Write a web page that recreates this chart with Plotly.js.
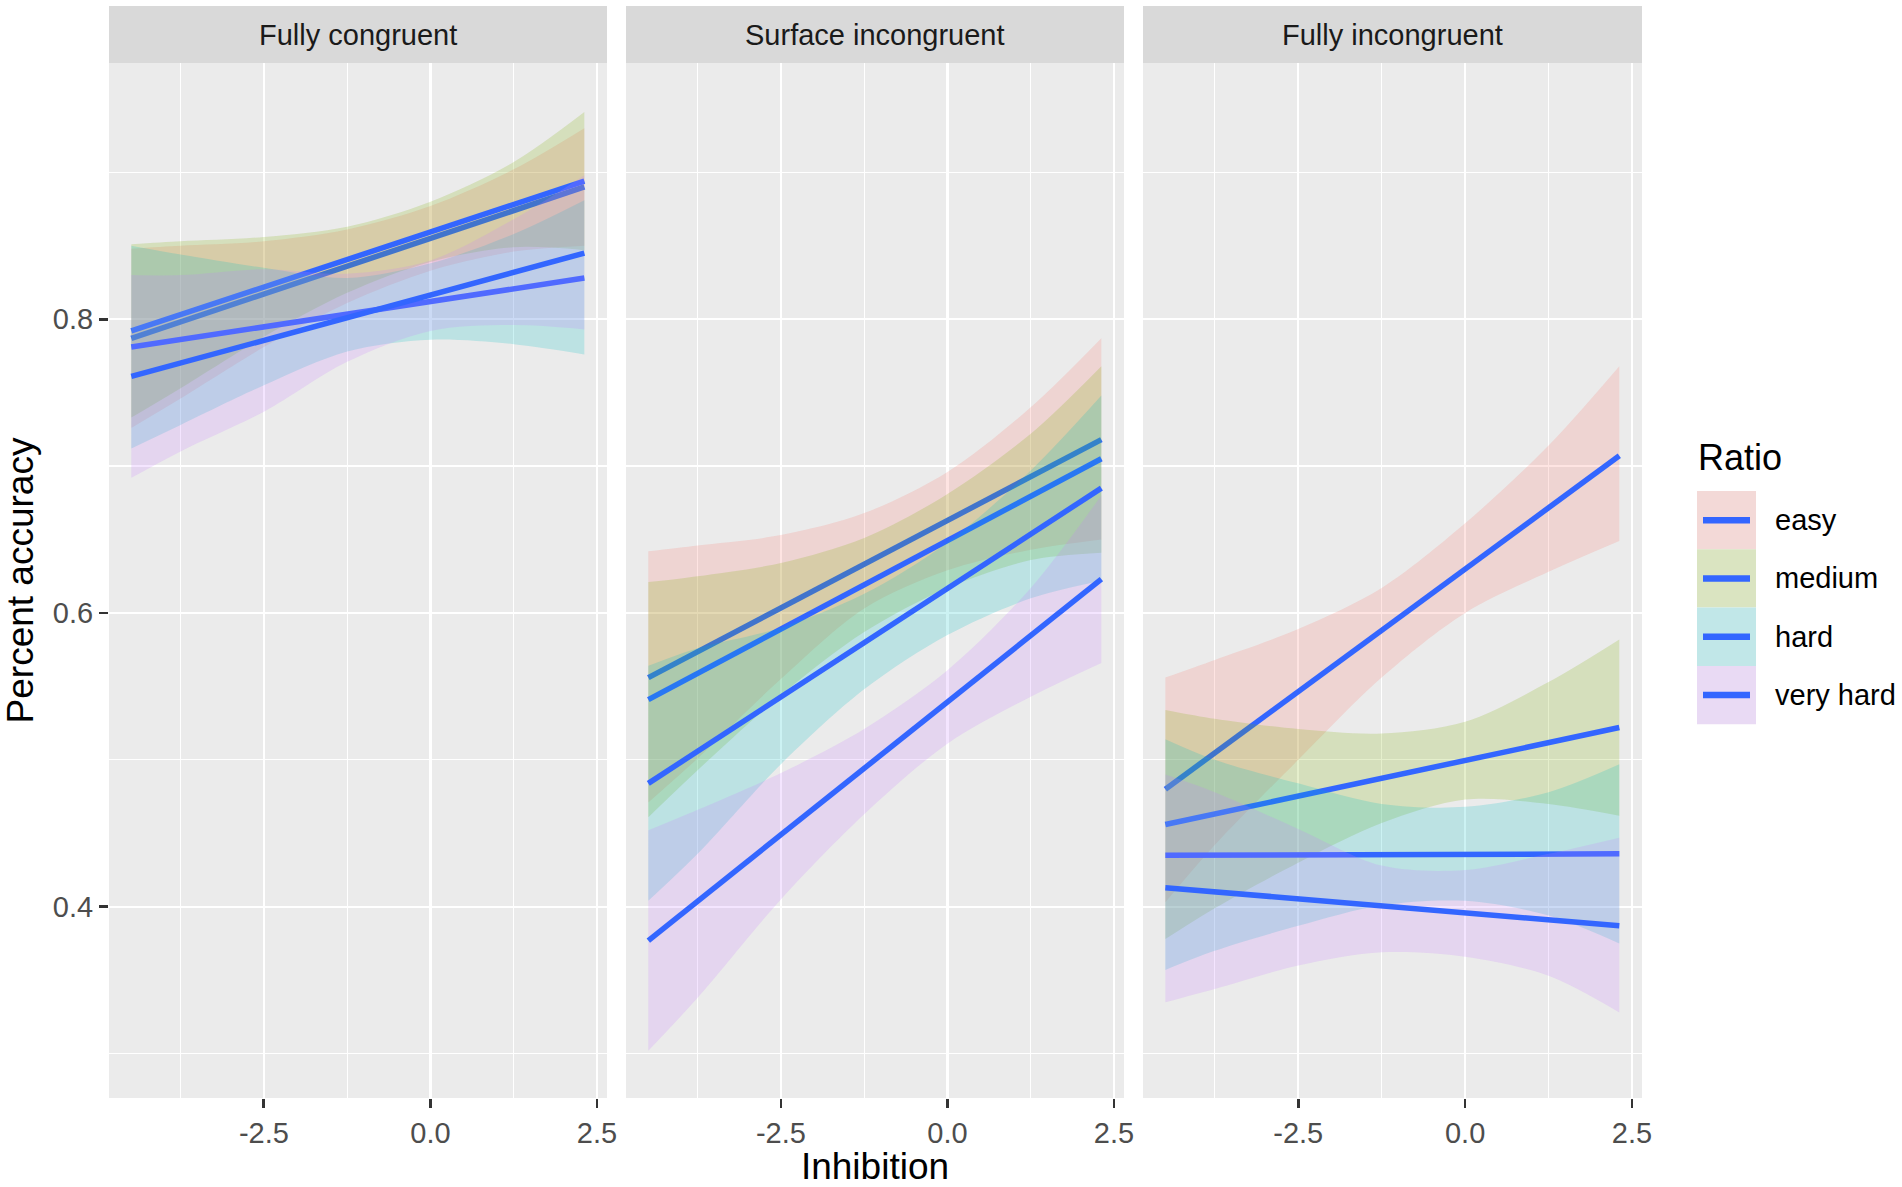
<!DOCTYPE html>
<html>
<head>
<meta charset="utf-8">
<script src="https://cdn.plot.ly/plotly-3.0.1.min.js"></script>
<style>
  html, body { margin: 0; padding: 0; background: #ffffff; }
  #chart { width: 1902px; height: 1187px; }
</style>
</head>
<body>
<div id="chart"></div>
<script>
// ---------------- data ----------------
const panels = ['Fully congruent', 'Surface incongruent', 'Fully incongruent'];
const categories = ['easy', 'medium', 'hard', 'very hard'];
const fillColors = ['rgba(248,118,109,0.2)', 'rgba(124,174,0,0.2)', 'rgba(0,191,196,0.2)', 'rgba(199,124,255,0.2)'];

// x positions where the confidence bands were read
const bandX = [-4.49, -3.75, -2.5, -1.25, 0, 1.25, 2.31];
// end points of the fitted lines
const lineX = [-4.49, 2.31];

// Fully congruent
const fcLine  = { easy: [0.787, 0.890], medium: [0.792, 0.894], hard: [0.781, 0.828], 'very hard': [0.761, 0.845] };
const fcUpper = {
  easy:        [0.848, 0.850, 0.853, 0.861, 0.877, 0.902, 0.930],
  medium:      [0.851, 0.853, 0.856, 0.863, 0.880, 0.907, 0.941],
  hard:        [0.850, 0.844, 0.835, 0.828, 0.838, 0.858, 0.881],
  'very hard': [0.830, 0.830, 0.834, 0.831, 0.840, 0.868, 0.898]
};
const fcLower = {
  easy:        [0.726, 0.746, 0.781, 0.811, 0.833, 0.846, 0.850],
  medium:      [0.733, 0.753, 0.788, 0.818, 0.839, 0.849, 0.847],
  hard:        [0.712, 0.728, 0.755, 0.778, 0.786, 0.783, 0.776],
  'very hard': [0.692, 0.710, 0.737, 0.771, 0.792, 0.796, 0.793]
};

// Surface incongruent
const siLine  = { easy: [0.556, 0.718], medium: [0.541, 0.705], hard: [0.484, 0.685], 'very hard': [0.377, 0.623] };
const siUpper = {
  easy:        [0.642, 0.646, 0.653, 0.668, 0.696, 0.740, 0.787],
  medium:      [0.621, 0.625, 0.634, 0.651, 0.681, 0.722, 0.768],
  hard:        [0.564, 0.576, 0.590, 0.613, 0.648, 0.697, 0.748],
  'very hard': [0.452, 0.466, 0.491, 0.521, 0.561, 0.617, 0.680]
};
const siLower = {
  easy:        [0.471, 0.501, 0.555, 0.603, 0.629, 0.643, 0.650],
  medium:      [0.461, 0.493, 0.544, 0.587, 0.617, 0.636, 0.641],
  hard:        [0.404, 0.436, 0.497, 0.548, 0.585, 0.610, 0.622],
  'very hard': [0.302, 0.338, 0.405, 0.463, 0.511, 0.543, 0.566]
};

// Fully incongruent
const fiLine  = { easy: [0.480, 0.707], medium: [0.456, 0.522], hard: [0.435, 0.436], 'very hard': [0.413, 0.387] };
const fiUpper = {
  easy:        [0.556, 0.568, 0.589, 0.617, 0.661, 0.714, 0.768],
  medium:      [0.534, 0.528, 0.521, 0.518, 0.526, 0.553, 0.582],
  hard:        [0.514, 0.500, 0.484, 0.470, 0.468, 0.478, 0.497],
  'very hard': [0.490, 0.478, 0.453, 0.428, 0.425, 0.436, 0.447]
};
const fiLower = {
  easy:        [0.403, 0.442, 0.500, 0.556, 0.600, 0.628, 0.649],
  medium:      [0.378, 0.399, 0.430, 0.457, 0.473, 0.470, 0.462],
  hard:        [0.357, 0.370, 0.387, 0.401, 0.404, 0.394, 0.375],
  'very hard': [0.335, 0.344, 0.360, 0.369, 0.366, 0.353, 0.328]
};

const xTickVals = [-2.5, 0, 2.5];
const xTickText = ['-2.5', '0.0', '2.5'];
const xMinorVals = [-3.75, -1.25, 1.25];
const yTickVals = [0.4, 0.6, 0.8];
const yTickText = ['0.4', '0.6', '0.8'];
const yMinorVals = [0.3, 0.5, 0.7, 0.9];

// ---------------- build ----------------
const panelData = [
  { line: fcLine, upper: fcUpper, lower: fcLower },
  { line: siLine, upper: siUpper, lower: siLower },
  { line: fiLine, upper: fiUpper, lower: fiLower }
];
const lineColor = '#3366FF';
const FONT = 'Liberation Sans, Arial, Helvetica, sans-serif';

const traces = [];
panelData.forEach((pd, p) => {
  const xa = p === 0 ? 'x' : 'x' + (p + 1);
  const ya = p === 0 ? 'y' : 'y' + (p + 1);
  categories.forEach((c, i) => {
    traces.push({
      type: 'scatter', mode: 'lines', x: bandX, y: pd.lower[c], xaxis: xa, yaxis: ya,
      line: { width: 0, shape: 'spline', smoothing: 0.9 }, showlegend: false, hoverinfo: 'skip'
    });
    traces.push({
      type: 'scatter', mode: 'lines', x: bandX, y: pd.upper[c], xaxis: xa, yaxis: ya,
      fill: 'tonexty', fillcolor: fillColors[i],
      line: { width: 0, shape: 'spline', smoothing: 0.9 }, showlegend: false, hoverinfo: 'skip'
    });
    traces.push({
      type: 'scatter', mode: 'lines', x: lineX, y: pd.line[c], xaxis: xa, yaxis: ya,
      line: { color: lineColor, width: 5.5 }, showlegend: false, name: c
    });
  });
});

// layout geometry (pixels of the 1902x1187 figure)
const W = 1902, H = 1187;
const mL = 109, mR = 260, mT = 63, mB = 89;
const plotW = W - mL - mR, plotH = H - mT - mB;
const px2x = px => (px - mL) / plotW;
const py2y = py => (H - mB - py) / plotH;

const domains = [[0, px2x(607)], [px2x(626), px2x(1124)], [px2x(1143), 1]];

function xAxis(i) {
  return {
    domain: domains[i], range: [-4.825, 2.65], anchor: i === 0 ? 'y' : 'y' + (i + 1),
    tickmode: 'array', tickvals: xTickVals, ticktext: xTickText,
    showgrid: true, gridcolor: '#FFFFFF', gridwidth: 2.4, zeroline: false, showline: false,
    minor: { tickmode: 'array', tickvals: xMinorVals, showgrid: true, gridcolor: '#FFFFFF', gridwidth: 1.2, ticks: '' },
    ticks: 'outside', ticklen: 9, tickwidth: 2.8, tickcolor: '#333333',
    tickfont: { family: FONT, size: 29, color: '#4D4D4D' },
    automargin: false, fixedrange: true
  };
}
function yAxis(i) {
  return {
    domain: [0, 1], range: [0.2698, 0.9744], anchor: i === 0 ? 'x' : 'x' + (i + 1),
    tickmode: 'array', tickvals: yTickVals, ticktext: yTickText,
    showgrid: true, gridcolor: '#FFFFFF', gridwidth: 2.4, zeroline: false, showline: false,
    minor: { tickmode: 'array', tickvals: yMinorVals, showgrid: true, gridcolor: '#FFFFFF', gridwidth: 1.2, ticks: '' },
    ticks: i === 0 ? 'outside' : '', ticklen: 9, tickwidth: 2.8, tickcolor: '#333333',
    showticklabels: i === 0,
    tickfont: { family: FONT, size: 29, color: '#4D4D4D' },
    automargin: false, fixedrange: true
  };
}

const layout = {
  width: W, height: H,
  margin: { l: mL, r: mR, t: mT, b: mB, pad: 0 },
  paper_bgcolor: '#FFFFFF', plot_bgcolor: '#EBEBEB',
  showlegend: false,
  font: { family: FONT, color: '#000000' },
  xaxis: xAxis(0), xaxis2: xAxis(1), xaxis3: xAxis(2),
  yaxis: yAxis(0), yaxis2: yAxis(1), yaxis3: yAxis(2),
  shapes: [], annotations: []
};
layout.xaxis2.title = { text: 'Inhibition', font: { family: FONT, size: 37, color: '#000000' }, standoff: 10 };
layout.yaxis.title = { text: 'Percent accuracy', font: { family: FONT, size: 37, color: '#000000' }, standoff: 14 };

// facet strips
panels.forEach((name, i) => {
  const xr = i === 0 ? 'x domain' : 'x' + (i + 1) + ' domain';
  layout.shapes.push({
    type: 'rect', xref: xr, yref: 'paper', x0: 0, x1: 1, y0: 1, y1: py2y(6),
    fillcolor: '#D9D9D9', line: { width: 0 }, layer: 'below'
  });
  layout.annotations.push({
    xref: xr, yref: 'paper', x: 0.5, y: (1 + py2y(6)) / 2, text: name, showarrow: false,
    xanchor: 'center', yanchor: 'middle', font: { family: FONT, size: 29, color: '#1A1A1A' }
  });
});

// legend (drawn by hand to match the ggplot key style)
layout.annotations.push({
  xref: 'paper', yref: 'paper', x: px2x(1696), y: py2y(457), text: 'Ratio', showarrow: false,
  xanchor: 'left', yanchor: 'middle', font: { family: FONT, size: 36, color: '#000000' }
});
const keyH = 58.3, keyTop = 491;
categories.forEach((c, i) => {
  const t = keyTop + i * keyH, b = t + keyH, m = (t + b) / 2;
  layout.shapes.push({ type: 'rect', xref: 'paper', yref: 'paper', x0: px2x(1697), x1: px2x(1756), y0: py2y(b), y1: py2y(t), fillcolor: '#F2F2F2', line: { width: 0 } });
  layout.shapes.push({ type: 'rect', xref: 'paper', yref: 'paper', x0: px2x(1697), x1: px2x(1756), y0: py2y(b), y1: py2y(t), fillcolor: fillColors[i], line: { width: 0 } });
  layout.shapes.push({ type: 'line', xref: 'paper', yref: 'paper', x0: px2x(1703), x1: px2x(1750), y0: py2y(m), y1: py2y(m), line: { color: lineColor, width: 6.5 } });
  layout.annotations.push({
    xref: 'paper', yref: 'paper', x: px2x(1773), y: py2y(m), text: c, showarrow: false,
    xanchor: 'left', yanchor: 'middle', font: { family: FONT, size: 29, color: '#000000' }
  });
});

Plotly.newPlot('chart', traces, layout, { displayModeBar: false, staticPlot: true });
</script>
</body>
</html>
